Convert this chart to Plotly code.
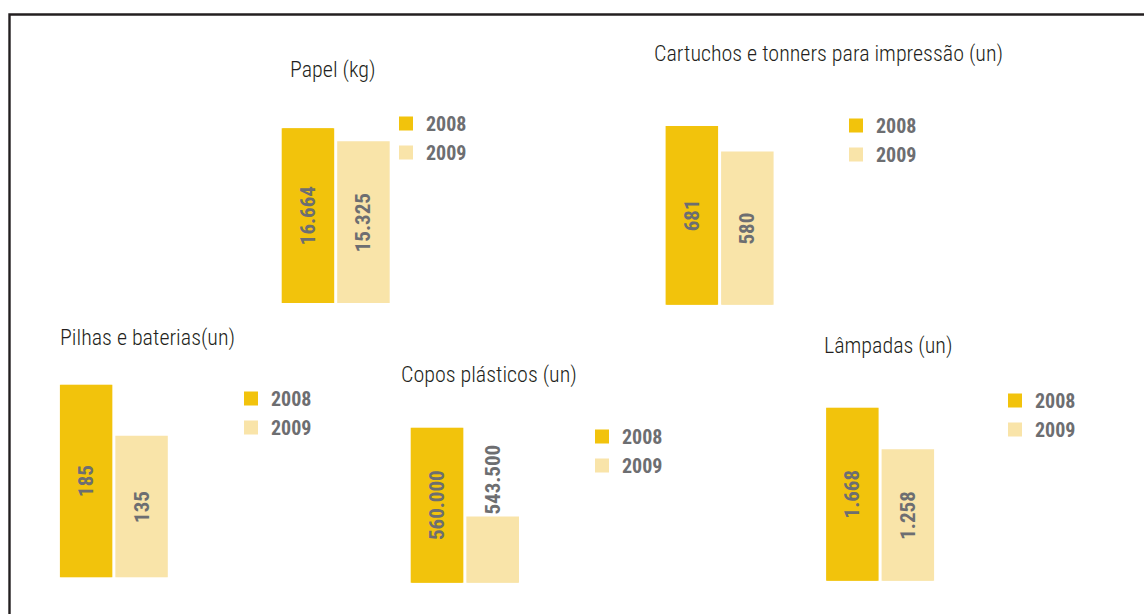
import plotly.graph_objects as go

# ---- data ----
years = ["2008", "2009"]
titles = ["Papel (kg)", "Cartuchos e tonners para impressão (un)", "Pilhas e baterias(un)",
          "Copos plásticos (un)", "Lâmpadas (un)"]
values_2008 = [16664, 681, 185, 560000, 1668]
values_2009 = [15325, 580, 135, 543500, 1258]
labels_2008 = ["16.664", "681", "185", "560.000", "1.668"]
labels_2009 = ["15.325", "580", "135", "543.500", "1.258"]

# ---- styling / layout ----
W, H = 1144, 614
C2008 = "#F2C30C"
C2009 = "#F9E4A9"
GRAY = "#6D6E71"
DARK = "#231F20"
COND = "Roboto Condensed, DejaVu Sans Condensed, sans-serif"

# pixel boxes of each panel: (x_left, x_right, y_bottom, y_top)
boxes = [
    (280.2, 391.2, 304.0, 127.3),
    (664.1, 775.1, 305.7, 125.0),
    (58.4, 169.3, 578.3, 383.7),
    (409.2, 520.5, 583.7, 426.7),
    (824.6, 935.6, 581.7, 406.7),
]
# y-axis lower bound per panel (copos panel uses a truncated axis as in the original)
y_low = [0, 0, 0, 531550, 0]
# title centres (px)
title_pos = [(332, 70), (828.5, 53.5), (147.5, 338), (488.5, 375), (888, 346)]
# legend top-left (px) for each panel
legend_pos = [(386, 104), (836, 106), (231, 379), (582, 417), (995, 381)]
# text position of the 2009 label
pos_2009 = ["inside", "inside", "inside", "outside", "inside"]

def px(x):
    return x / W

def py(y):
    return 1 - y / H

fig = go.Figure()
layout = dict(
    width=W, height=H, margin=dict(l=0, r=0, t=0, b=0),
    paper_bgcolor="white", plot_bgcolor="rgba(0,0,0,0)",
    barmode="overlay", bargap=0.09,
    font=dict(family=COND, color=GRAY),
    annotations=[], shapes=[],
)

for i in range(5):
    n = "" if i == 0 else str(i + 1)
    xa, ya = "x" + n, "y" + n
    leg = "legend" + n
    base = y_low[i]
    for yr, vals, labs, col, tpos in (
        ("2008", values_2008, labels_2008, C2008, "inside"),
        ("2009", values_2009, labels_2009, C2009, pos_2009[i]),
    ):
        fig.add_trace(go.Bar(
            x=[yr], y=[vals[i] - base], base=[base], name=yr, text=[labs[i]],
            textposition=tpos, textangle=-90, insidetextanchor="middle",
            constraintext="none",
            textfont=dict(family=COND, size=21, color=GRAY, weight="bold"),
            marker=dict(color=col, line=dict(width=2, color=col)),
            xaxis=xa, yaxis=ya, legend=leg, showlegend=True,
            hovertemplate=f"{titles[i]}<br>{yr}: {labs[i]}<extra></extra>",
        ))
    x0, x1, yb, yt = boxes[i]
    layout["xaxis" + n] = dict(domain=[px(x0), px(x1)], anchor=ya, type="category",
                               categoryorder="array", categoryarray=years,
                               range=[-0.5, 1.5], visible=False, fixedrange=True)
    layout["yaxis" + n] = dict(domain=[py(yb - 1), py(yt + 1)], anchor=xa,
                               range=[y_low[i], values_2008[i]], visible=False, fixedrange=True)
    lx, ly = legend_pos[i]
    layout[leg] = dict(x=px(lx), y=py(ly), xanchor="left", yanchor="top",
                       bgcolor="rgba(0,0,0,0)", borderwidth=0,
                       font=dict(family=COND, size=20, color=GRAY, weight="bold"),
                       itemclick=False, itemdoubleclick=False, tracegroupgap=0)
    tx, ty = title_pos[i]
    layout["annotations"].append(dict(
        text=titles[i], x=px(tx), y=py(ty), xref="paper", yref="paper",
        xanchor="center", yanchor="middle", showarrow=False,
        font=dict(family=COND, size=22, color=DARK, weight=300)))

# outer frame
layout["shapes"].append(dict(type="rect", xref="paper", yref="paper",
                             x0=px(9.5), x1=1.05, y0=-0.05, y1=py(14.5),
                             line=dict(color=DARK, width=2.4), fillcolor="rgba(0,0,0,0)"))

fig.update_layout(**layout)
fig.write_html("out.html", config={"displayModeBar": False},
               post_script="document.body.style.margin='0';document.body.style.padding='0';")
